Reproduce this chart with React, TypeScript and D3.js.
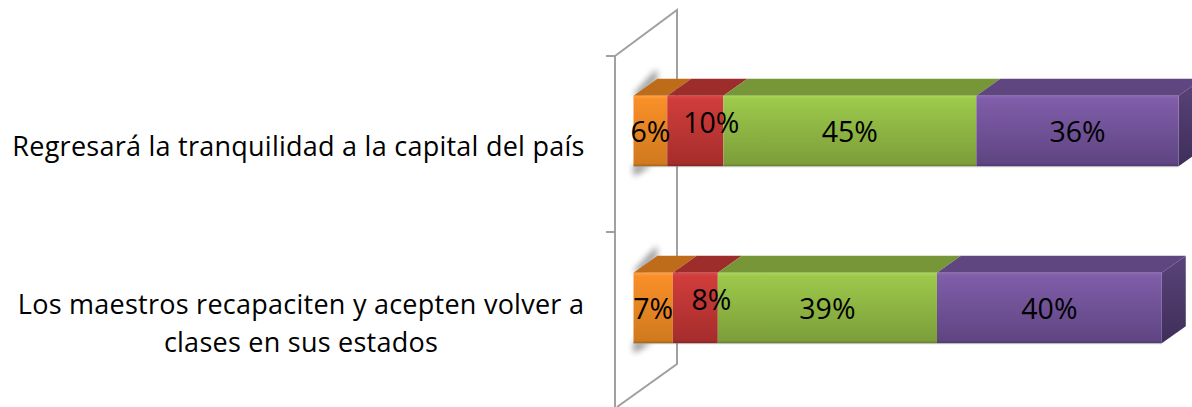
import React from "react";
import * as d3 from "d3";

const categories = ["Regresará la tranquilidad a la capital del país", "Los maestros recapaciten y acepten volver a clases en sus estados"];
const categoryLines = [["Regresará la tranquilidad a la capital del país"], ["Los maestros recapaciten y acepten volver a", "clases en sus estados"]];
const seriesA = [6, 7];
const seriesB = [10, 8];
const seriesC = [45, 39];
const seriesD = [36, 40];
const seriesValues = [seriesA, seriesB, seriesC, seriesD];
const palette = [
  { hi: "#FFA040", top: "#F98F28", bot: "#D07A1E", roof: "#BE6C1A" },
  { hi: "#DB4A48", top: "#D03D3B", bot: "#A52D2C", roof: "#9C2D2B" },
  { hi: "#AAD656", top: "#9CC94B", bot: "#7D9E3A", roof: "#779637" },
  { hi: "#8A68B4", top: "#7F5DA8", bot: "#5F4583", roof: "#5F4680" },
];
const labelShift = [[0, 3], [16, -6], [0, 3], [0, 3]];

const W = 1192, H = 407;
const dx = 24, dy = -17;

export default function App() {
  const x = d3.scaleLinear().domain([0, 100]).range([633.5, 1195.5]);
  const y = d3.scaleBand<string>().domain(categories).range([56, 408]).paddingInner(0.6).paddingOuter(0.3);
  const barH = y.bandwidth();
  const frontY = (c: string, i: number) => (y(c) as number) - 13 + i;
  const poly = d3.line<[number, number]>().x(d => d[0]).y(d => d[1]);
  const tickYs = [56, 232];
  const line = "#A0A0A0";
  const font = "'Open Sans', Lato, sans-serif";
  return (
    <svg width={W} height={H} viewBox={`0 0 ${W} ${H}`} style={{ position: "absolute", left: 0, top: 0, display: "block" }}>
      <defs>
        <filter id="blur" x="-50%" y="-50%" width="200%" height="200%"><feGaussianBlur stdDeviation="3" /></filter>
        {palette.map((p, i) => (
          <linearGradient key={i} id={`front${i}`} x1="0" x2="0" y1="0" y2="1">
            <stop offset="0" stopColor={p.hi} />
            <stop offset="0.05" stopColor={p.top} />
            <stop offset="0.96" stopColor={p.bot} />
            <stop offset="1" stopColor={d3.color(p.bot)!.darker(0.6).formatHex()} />
          </linearGradient>
        ))}
        <linearGradient id="sideGrad" x1="0" x2="0" y1="0" y2="1">
          <stop offset="0" stopColor="#5A4379" />
          <stop offset="1" stopColor="#3F2E5A" />
        </linearGradient>
      </defs>

      <g fill="none" stroke={line} strokeWidth={2}>
        <path d={poly([[615, 56], [677, 10], [677, 364], [617, 407]]) as string} />
        <path d={poly([[615, 56], [615, 407]]) as string} />
        {tickYs.map(t => <path key={t} d={poly([[606, t], [615, t]]) as string} />)}
      </g>

      {categories.map((c, ci) => {
        const fy = frontY(c, ci);
        let acc = 0;
        const segs = seriesValues.map((s, si) => {
          const v = s[ci];
          const seg = { si, v, x0: x(acc), x1: x(acc + v) };
          acc += v;
          return seg;
        });
        const last = segs[segs.length - 1];
        return (
          <g key={c}>
            <path filter="url(#blur)" fill="#000" opacity={0.42}
              d={poly([[633, fy - 1], [657, fy - 27], [657, fy - 16], [640, fy]]) as string} />
            <path filter="url(#blur)" fill="#000" opacity={0.42}
              d={poly([[633, fy + barH - 1], [652, fy + barH - 1], [634, fy + barH + 10]]) as string} />
            {segs.map(s => (
              <path key={s.si} fill={palette[s.si].roof}
                d={poly([[s.x0, fy], [s.x0 + dx, fy + dy], [s.x1 + dx, fy + dy], [s.x1, fy]]) as string} />
            ))}
            <path fill="url(#sideGrad)"
              d={poly([[last.x1, fy], [last.x1 + dx, fy + dy], [last.x1 + dx, fy + dy + barH], [last.x1, fy + barH]]) as string} />
            {segs.map(s => (
              <rect key={s.si} x={s.x0} y={fy} width={s.x1 - s.x0} height={barH} fill={`url(#front${s.si})`} />
            ))}
            <path d={poly([[633.5, fy + barH + 0.5], [last.x1, fy + barH + 0.5]]) as string} stroke="#8A8A8A" strokeOpacity={0.5} fill="none" />
            {segs.map(s => (
              <text key={s.si} x={(s.x0 + s.x1) / 2 + labelShift[s.si][0]} y={fy + barH / 2 + labelShift[s.si][1]}
                textAnchor="middle" dominantBaseline="middle" fontFamily={font} fontSize={28.5} fill="#000">
                {`${s.v}%`}
              </text>
            ))}
            <text fontFamily={font} fontSize={27} letterSpacing={0.25} fill="#000" textAnchor="middle">
              {categoryLines[ci].map((l, li) => (
                <tspan key={li} x={ci === 0 ? 298.5 : 301} y={fy + (ci === 0 ? 60 : 41) + li * 38}>{l}</tspan>
              ))}
            </text>
          </g>
        );
      })}
    </svg>
  );
}
